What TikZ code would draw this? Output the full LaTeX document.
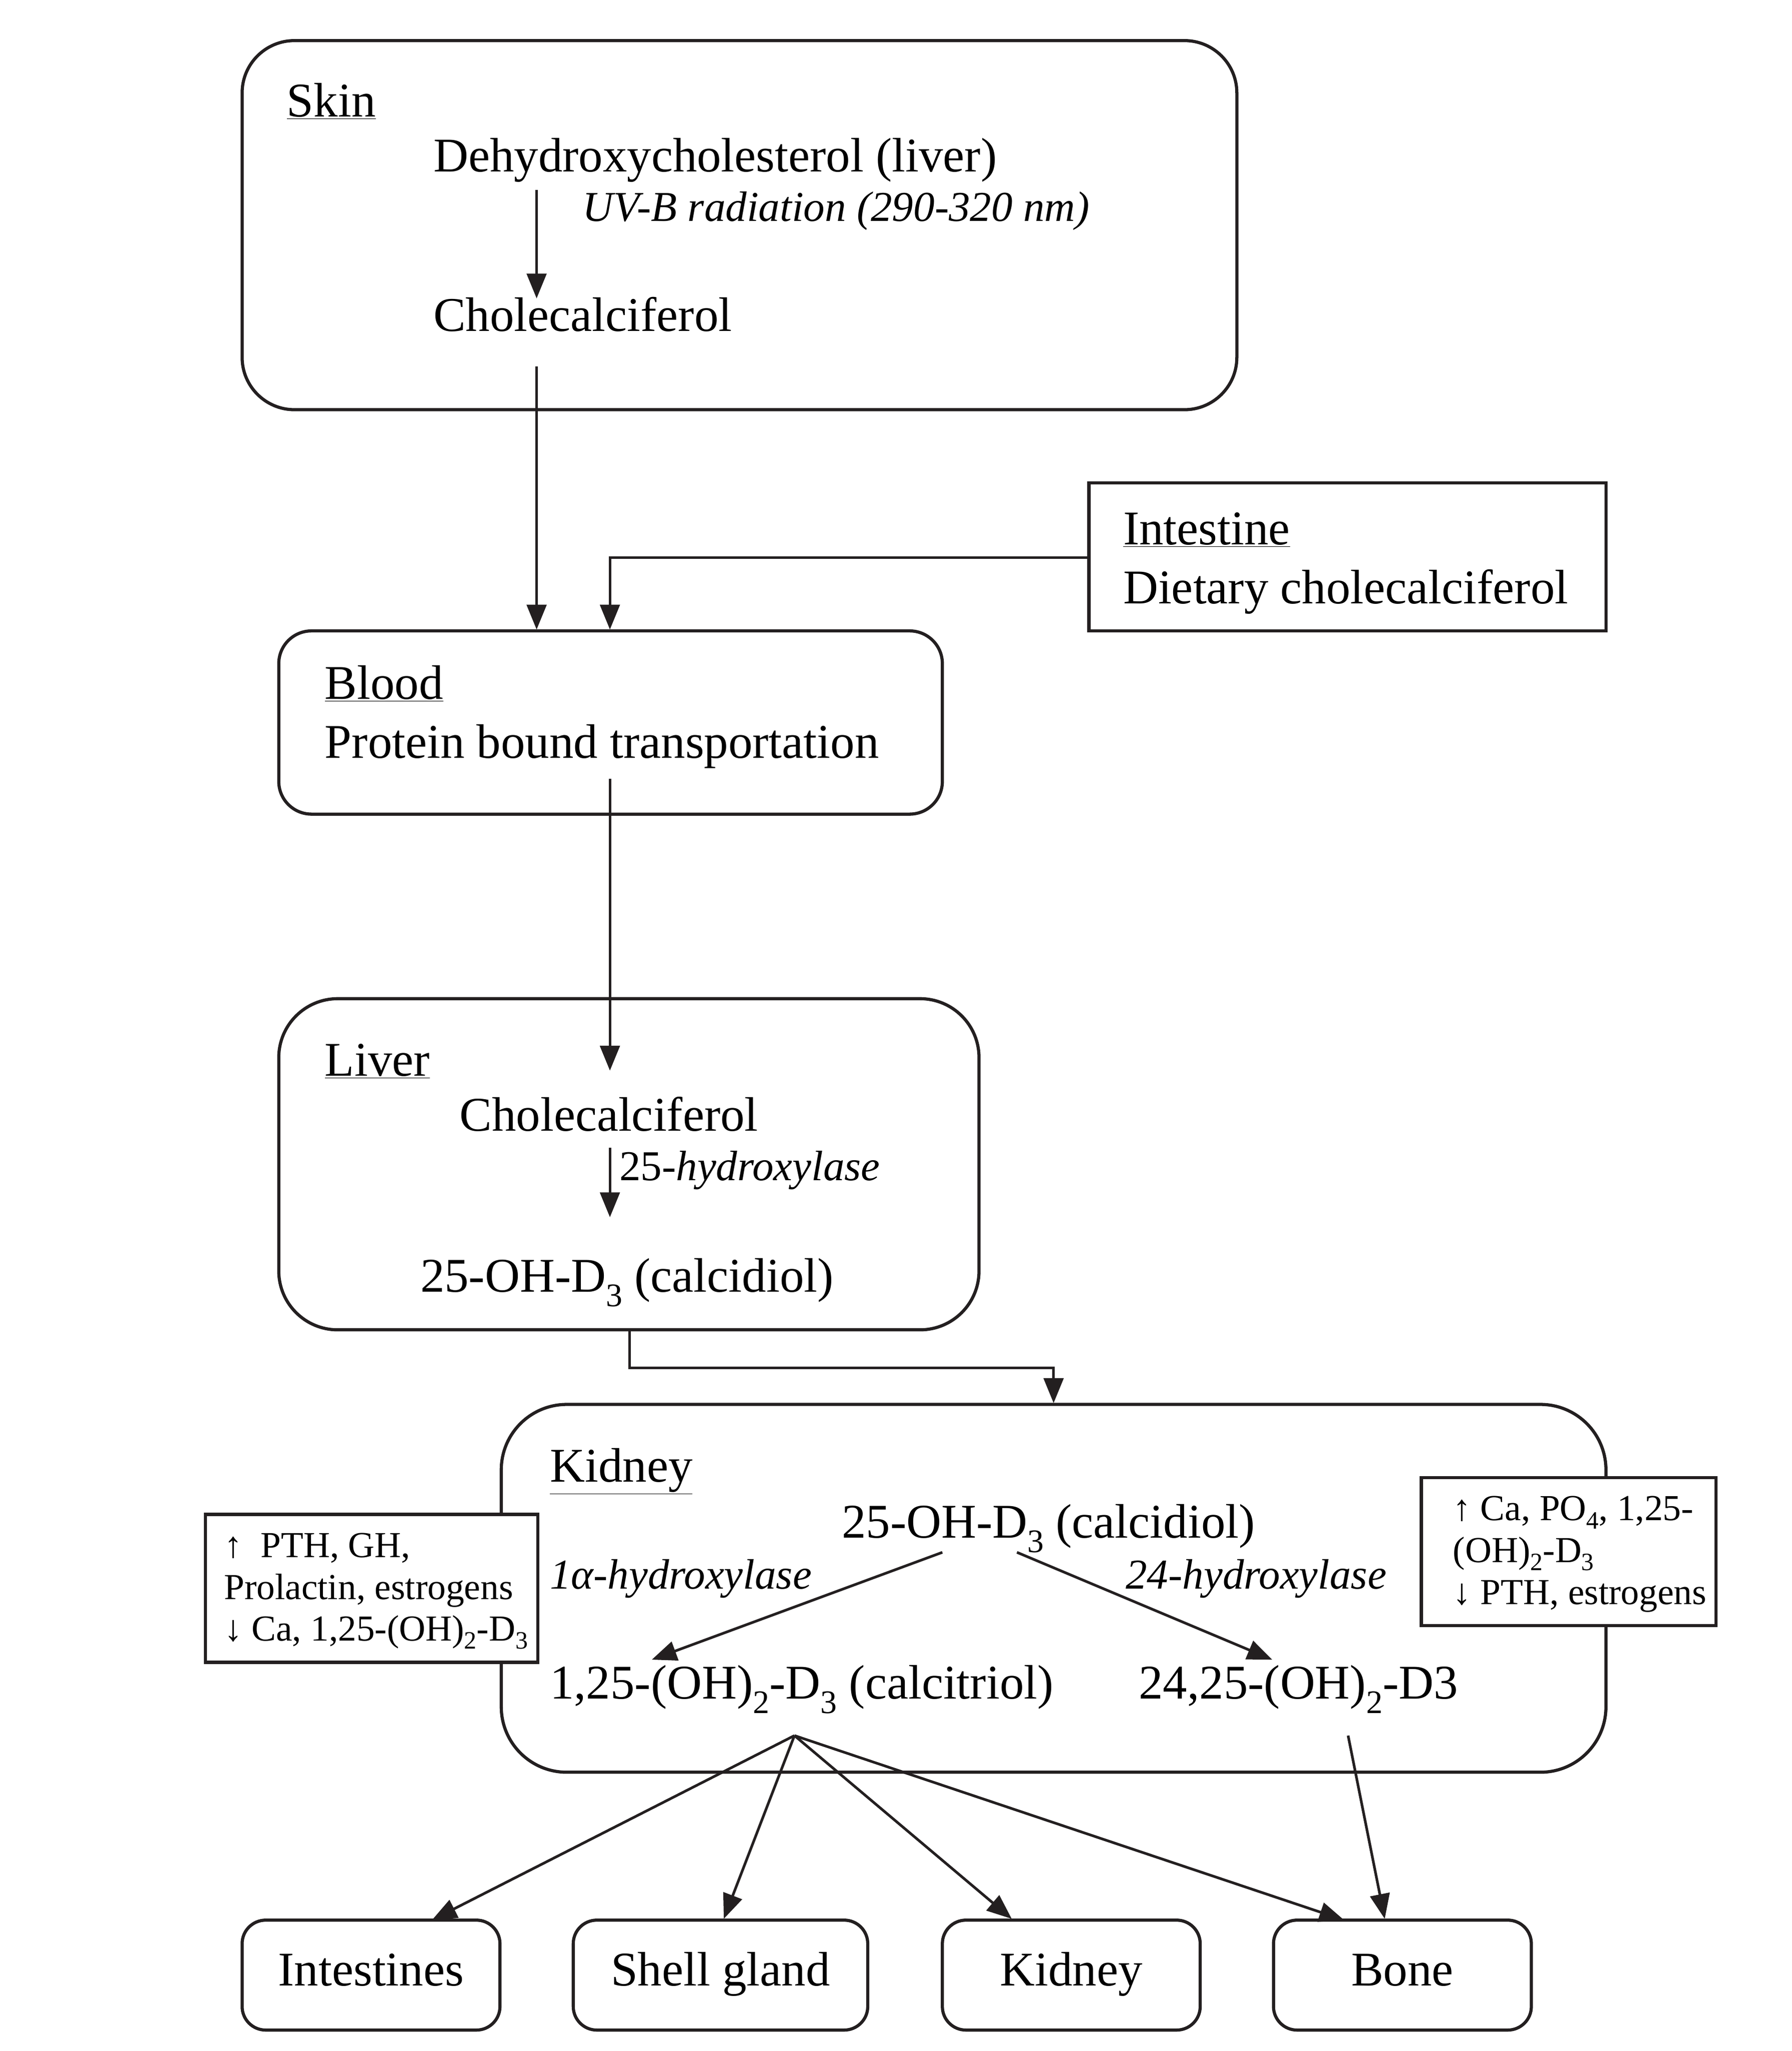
\documentclass[tikz,border=0pt]{standalone}
\usepackage{fontspec}
\setmainfont{Liberation Serif}
\usetikzlibrary{arrows.meta}
\newcommand{\sbs}[1]{\raisebox{-0.3em}{\scalebox{0.68}{#1}}}
\newcommand{\ssbs}[1]{\raisebox{-0.22em}{\scalebox{0.68}{#1}}}
\definecolor{ink}{RGB}{35,31,32}
\begin{document}
\begin{tikzpicture}[x=1pt,y=-1pt,
  rbox/.style={draw=ink, line width=2.4pt, rounded corners=#1, inner sep=0pt},
  sbox/.style={draw=ink, line width=2.4pt, fill=white, inner sep=0pt},
  txt/.style={inner sep=0pt, anchor=base west, text=black, font=\fontsize{37}{44}\selectfont},
  itxt/.style={inner sep=0pt, anchor=base west, text=black, font=\fontsize{32.5}{38}\selectfont\itshape},
  stxt/.style={inner sep=0pt, anchor=north west, align=left, text=black, font=\fontsize{28}{32}\selectfont},
  btxt/.style={inner sep=0pt, anchor=base, text=black, font=\fontsize{37}{44}\selectfont},
  arr/.style={draw=ink, line width=2pt, -{Triangle[length=19pt,width=15pt]}}
]
\useasboundingbox (0,0) rectangle (1369,1567);

% ---- boxes
\node[rbox=40pt, minimum width=760pt, minimum height=282pt] (skin) at (565,172) {};
\node[sbox, minimum width=395pt, minimum height=113pt] (intbox) at (1029.5,425.5) {};
\node[rbox=25pt, minimum width=507pt, minimum height=140pt] (blood) at (466.5,552) {};
\node[rbox=45pt, minimum width=535pt, minimum height=253pt] (liver) at (480.5,889.5) {};
\node[rbox=50pt, minimum width=844pt, minimum height=281pt] (kidney) at (805,1213.5) {};
\node[sbox, minimum width=254pt, minimum height=113pt] (lbox) at (284,1213.5) {};
\node[sbox, minimum width=225pt, minimum height=113pt] (rbox) at (1198.5,1185.5) {};

% ---- texts
\node[txt] (skinlbl) at (219,89) {\underline{Skin}};
\node[txt] (dehy) at (331,131) {Dehydroxycholesterol (liver)};
\node[itxt] (uvb) at (445,169) {UV-B radiation (290-320 nm)};
\node[txt] (chole1) at (331,253) {Cholecalciferol};

\node[txt] (intlbl) at (858,416) {\underline{Intestine}};
\node[txt] (diet) at (858,461) {Dietary cholecalciferol};

\node[txt] (bloodlbl) at (248,534) {\underline{Blood}};
\node[txt] (protein) at (248,579) {Protein bound transportation};

\node[txt] (liverlbl) at (248,822) {\underline{Liver}};
\node[txt] (chole2) at (351,864) {Cholecalciferol};
\node[itxt] (hyd25) at (473,902) {\upshape 25\itshape-hydroxylase};
\node[txt] (calcid1) at (321,987) {25-OH-D\sbs{3} (calcidiol)};

\node[txt] (kidlbl) at (420,1132) {\underline{Kidney}};
\node[txt] (calcid2) at (643,1175) {25-OH-D\sbs{3} (calcidiol)};
\node[itxt] (h1a) at (420,1214) {1α-hydroxylase};
\node[itxt] (h24) at (860,1214) {24-hydroxylase};
\node[txt] (calcit) at (420,1298) {1,25-(OH)\sbs{2}-D\sbs{3} (calcitriol)};
\node[txt] (d24) at (870,1298) {24,25-(OH)\sbs{2}-D3};

\node[stxt] (ltxt) at (171,1171) {↑\ \ PTH, GH,\\Prolactin, estrogens\\↓ Ca, 1,25-(OH)\ssbs{2}-D\ssbs{3}};
\node[stxt] (rtxt) at (1110,1143) {↑ Ca, PO\ssbs{4}, 1,25-\\(OH)\ssbs{2}-D\ssbs{3}\\↓ PTH, estrogens};

% ---- target boxes
\node[rbox=18pt, minimum width=197pt, minimum height=84pt] (tint) at (283.5,1509) {};
\node[btxt] at ([yshift=-8pt]tint.center) {Intestines};
\node[rbox=18pt, minimum width=225pt, minimum height=84pt] (tshell) at (550.5,1509) {};
\node[btxt] at ([yshift=-8pt]tshell.center) {Shell gland};
\node[rbox=18pt, minimum width=197pt, minimum height=84pt] (tkid) at (818.5,1509) {};
\node[btxt] at ([yshift=-8pt]tkid.center) {Kidney};
\node[rbox=18pt, minimum width=197pt, minimum height=84pt] (tbone) at (1071.5,1509) {};
\node[btxt] at ([yshift=-8pt]tbone.center) {Bone};

% ---- coordinates
\coordinate (a1s) at (410,145);  \coordinate (a1e) at (410,228);
\coordinate (a2s) at (410,280);  \coordinate (a2e) at (410,481);
\coordinate (i1) at (466,426);   \coordinate (i2) at (466,481);
\coordinate (b1) at (466,595);   \coordinate (b2) at (466,818);
\coordinate (l1) at (466,877);   \coordinate (l2) at (466,930);
\coordinate (k0) at (481,1017);  \coordinate (k1) at (481,1045);
\coordinate (k2) at (805,1045);  \coordinate (k3) at (805,1072);
\coordinate (c1) at (720,1186);  \coordinate (c1e) at (498,1268);
\coordinate (c2) at (777,1186);  \coordinate (c2e) at (972,1268);
\coordinate (o1) at (607,1326);  \coordinate (o2) at (1030,1326);
\coordinate (e1) at (330,1467);  \coordinate (e2) at (553,1466);
\coordinate (e3) at (773,1466);  \coordinate (e4) at (1027,1467);
\coordinate (e5) at (1058,1466);

% ---- connectors
\draw[arr] (a1s) -- (a1e);
\draw[arr] (a2s) -- (a2e);
\draw[arr] (intbox.west |- i1) -- (i1) -- (i2);
\draw[arr] (b1) -- (b2);
\draw[arr] (l1) -- (l2);
\draw[arr] (k0) -- (k1) -- (k2) -- (k3);
\draw[arr] (c1) -- (c1e);
\draw[arr] (c2) -- (c2e);
\draw[arr] (o1) -- (e1);
\draw[arr] (o1) -- (e2);
\draw[arr] (o1) -- (e3);
\draw[arr] (o1) -- (e4);
\draw[arr] (o2) -- (e5);
\end{tikzpicture}
\end{document}
